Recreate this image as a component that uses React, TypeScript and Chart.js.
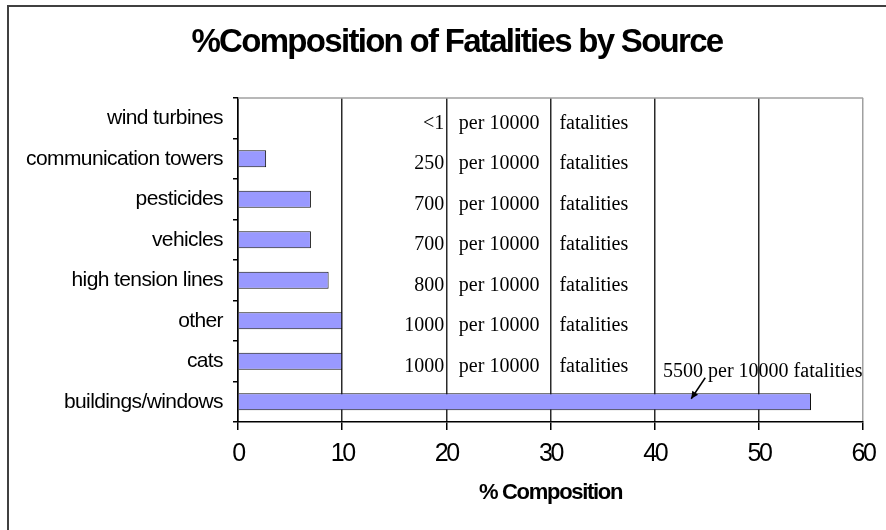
import React, { useEffect, useRef } from "react";
import { Chart, registerables } from "chart.js";

Chart.register(...registerables);

const categories = [
  "wind turbines",
  "communication towers",
  "pesticides",
  "vehicles",
  "high tension lines",
  "other",
  "cats",
  "buildings/windows",
];
const compositionPct = [0, 2.7, 7, 7, 8.7, 10, 10, 55];
const fatalityCounts = ["<1", "250", "700", "700", "800", "1000", "1000"];
const buildingsNote = "5500 per 10000 fatalities";
const xTicks = [0, 10, 20, 30, 40, 50, 60];

const SANS = '"Liberation Sans", Arial, Helvetica, sans-serif';
const SERIF = '"Liberation Serif", "Times New Roman", serif';

const framePlugin = {
  id: "frame",
  beforeDraw(chart: any) {
    const { ctx, width, height } = chart;
    ctx.save();
    ctx.fillStyle = "#ffffff";
    ctx.fillRect(0, 0, width, height);
    ctx.strokeStyle = "#404040";
    ctx.lineWidth = 2;
    ctx.beginPath();
    ctx.moveTo(8, height);
    ctx.lineTo(8, 6);
    ctx.lineTo(width, 6);
    ctx.stroke();
    ctx.restore();

    // letter spacing (and optional shift) to mimic the condensed original text
    const wrap = (obj: any, key: string, ls: string, dx = 0) => {
      if (!obj || obj["__wrapped_" + key]) return;
      const orig = obj[key];
      obj[key] = function (...args: any[]) {
        const c = chart.ctx as any;
        c.save();
        c.letterSpacing = ls;
        if (dx) c.translate(dx, 0);
        try {
          return orig.apply(this, args);
        } finally {
          c.restore();
        }
      };
      obj["__wrapped_" + key] = true;
    };
    wrap(chart.scales.x, "drawLabels", "-2.4px");
    wrap(chart.scales.x, "drawTitle", "-1.3px");
    wrap(chart.scales.y, "drawLabels", "-0.6px");
    wrap(chart.titleBlock, "draw", "-1.7px", 16);
  },
  afterDraw(chart: any) {
    const { ctx, chartArea } = chart;
    ctx.save();
    ctx.strokeStyle = "#a0a0a0";
    ctx.lineWidth = 1.5;
    ctx.beginPath();
    ctx.moveTo(chartArea.left, chartArea.top);
    ctx.lineTo(chartArea.right, chartArea.top);
    ctx.stroke();
    ctx.restore();
  },
};

const notesPlugin = {
  id: "notes",
  afterDatasetsDraw(chart: any) {
    const { ctx } = chart;
    const xs = chart.scales.x;
    const ys = chart.scales.y;
    ctx.save();
    (ctx as any).letterSpacing = "0px";
    ctx.font = `20px ${SERIF}`;
    ctx.fillStyle = "#000";
    ctx.textBaseline = "middle";
    fatalityCounts.forEach((txt, i) => {
      const y = ys.getPixelForValue(i) + 5;
      ctx.textAlign = "right";
      ctx.fillText(txt, xs.getPixelForValue(19.8), y);
      ctx.textAlign = "left";
      ctx.fillText("per 10000", xs.getPixelForValue(21.2), y);
      ctx.fillText("fatalities", xs.getPixelForValue(30.85), y);
    });
    const bi = categories.length - 1;
    const by = ys.getPixelForValue(bi);
    ctx.textAlign = "left";
    ctx.fillText(buildingsNote, xs.getPixelForValue(40.8), by - 30);
    // arrow
    const tx = xs.getPixelForValue(44.85);
    const ty = by - 24;
    const hx = xs.getPixelForValue(43.5);
    const hy = by - 3;
    ctx.strokeStyle = "#000";
    ctx.lineWidth = 1.5;
    ctx.beginPath();
    ctx.moveTo(tx, ty);
    ctx.lineTo(hx, hy);
    ctx.stroke();
    const ang = Math.atan2(hy - ty, hx - tx);
    const L = 8;
    ctx.beginPath();
    ctx.moveTo(hx, hy);
    ctx.lineTo(hx - L * Math.cos(ang - 0.45), hy - L * Math.sin(ang - 0.45));
    ctx.lineTo(hx - L * Math.cos(ang + 0.45), hy - L * Math.sin(ang + 0.45));
    ctx.closePath();
    ctx.fill();
    ctx.restore();
  },
};

export default function App() {
  const ref = useRef<HTMLCanvasElement | null>(null);
  useEffect(() => {
    if (!ref.current) return;
    const chart = new Chart(ref.current, {
      type: "bar",
      data: {
        labels: categories,
        datasets: [
          {
            data: compositionPct,
            backgroundColor: "#9999ff",
            borderColor: "#111111",
            borderWidth: 1,
            barPercentage: 0.42,
            categoryPercentage: 1,
          },
        ],
      },
      options: {
        indexAxis: "y",
        responsive: false,
        animation: false,
        layout: { padding: { left: 10, right: 14, top: 0, bottom: 0 } },
        plugins: {
          legend: { display: false },
          tooltip: { enabled: false },
          title: {
            display: true,
            text: "%Composition of Fatalities by Source",
            color: "#000",
            font: { family: SANS, size: 33, weight: "bold" },
            padding: { top: 23.2, bottom: 35.2 },
          },
        },
        scales: {
          x: {
            type: "linear",
            min: 0,
            max: 60,
            afterBuildTicks(scale: any) {
              scale.ticks = xTicks.map((v) => ({ value: v }));
            },
            afterFit(scale: any) {
              scale.height = 108;
            },
            grid: {
              color: (c: any) => (c.tick && c.tick.value === 60 ? "#a0a0a0" : "#2a2a2a"),
              lineWidth: 1.5,
              tickColor: "#000",
              tickLength: 8,
            },
            border: { display: true, color: "#000", width: 1.5 },
            ticks: {
              color: "#000",
              padding: 9,
              font: { family: SANS, size: 25 },
            },
            title: {
              display: true,
              text: "% Composition",
              color: "#000",
              font: { family: SANS, size: 22, weight: "bold" },
              padding: { top: 0, bottom: 23.8 },
            },
          },
          y: {
            type: "category",
            afterFit(scale: any) {
              scale.width = 228;
            },
            grid: {
              offset: true,
              drawOnChartArea: false,
              color: "#000",
              tickLength: 5,
              lineWidth: 1.5,
            },
            border: { display: true, color: "#000", width: 1.5 },
            ticks: {
              color: "#000",
              padding: 10,
              font: { family: SANS, size: 21 },
            },
          },
        },
      },
      plugins: [framePlugin, notesPlugin],
    } as any);
    return () => chart.destroy();
  }, []);
  return (
    <div style={{ position: "fixed", left: 0, top: 0, width: 886, height: 530, background: "#fff" }}>
      <canvas ref={ref} width={886} height={530} style={{ width: 886, height: 530, display: "block" }} />
    </div>
  );
}
